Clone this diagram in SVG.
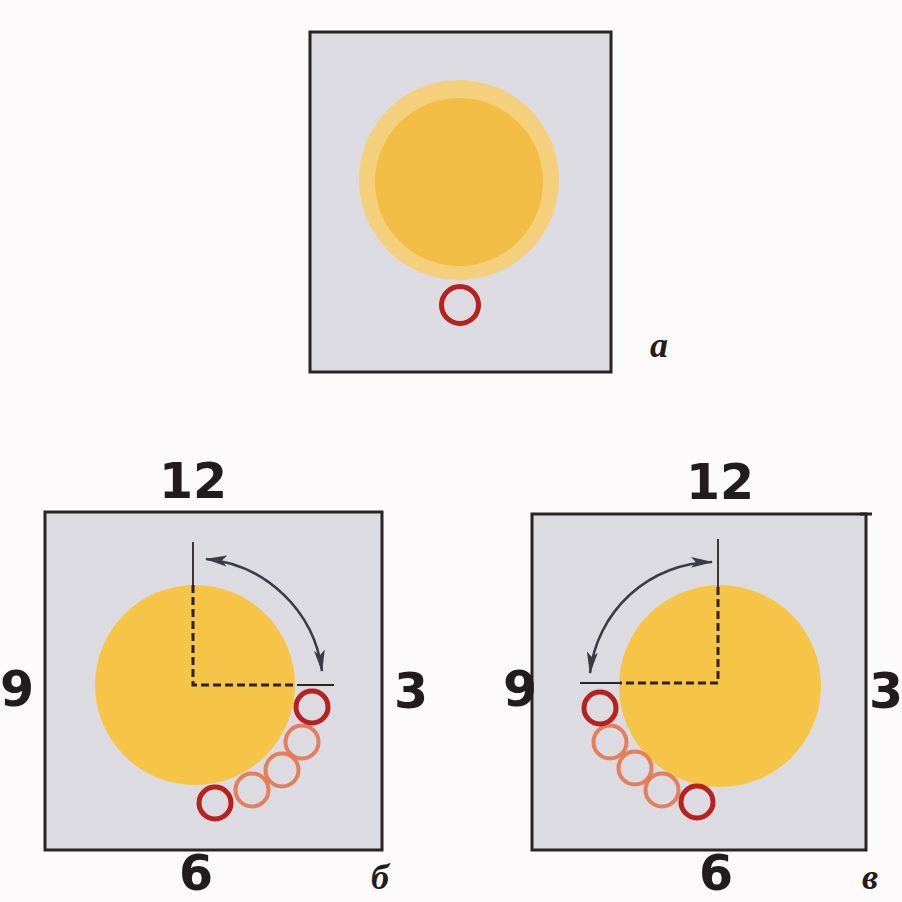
<svg xmlns="http://www.w3.org/2000/svg" width="902" height="902" viewBox="0 0 902 902">
  <defs>
    <marker id="ah" viewBox="0 0 22 13" refX="21" refY="6.5" markerWidth="22" markerHeight="13" markerUnits="userSpaceOnUse" orient="auto-start-reverse">
      <path d="M0,1 L22,6.5 L0,12 L5,6.5 Z" fill="#3a3b44"/>
    </marker>
  </defs>
  <style>
    .panel { fill: #dcdbe2; stroke: #2b2224; stroke-width: 3; }
    .disc { fill: #f6c547; }
    .dash { stroke: #2b2224; stroke-width: 3; stroke-dasharray: 8 4; fill: none; }
    .tick { stroke: #2b2224; stroke-width: 1.8; fill: none; }
    .arc { stroke: #3a3b44; stroke-width: 2.6; fill: none; marker-start: url(#ah); marker-end: url(#ah); }
    .ringD { fill: none; stroke: #b7211e; stroke-width: 5; }
    .ringL { fill: none; stroke: #e4744e; stroke-width: 4; opacity: 0.9; }
    .num { font-family: "DejaVu Sans", "Liberation Sans", sans-serif; font-weight: 700; font-size: 49px; fill: #231c1e; text-anchor: middle; }
    .let { font-family: "Liberation Serif", "DejaVu Serif", serif; font-weight: 700; font-style: italic; font-size: 36px; fill: #231c1e; text-anchor: middle; }
  </style>
  <rect x="0" y="0" width="902" height="902" fill="#fdfafc"/>

  <g id="panel-a">
    <rect class="panel" x="310" y="32" width="301" height="340"/>
    <circle cx="459" cy="180" r="100" fill="#f4d07c"/>
    <circle cx="459" cy="182" r="84" fill="#f2bd45"/>
    <circle class="ringD" cx="460" cy="305" r="18.5"/>
    <text class="let" x="659" y="357">a</text>
  </g>

  <g id="panel-b">
    <rect class="panel" x="45" y="512" width="337" height="338"/>
    <circle class="disc" cx="195" cy="685" r="100"/>
    <text class="num" x="193" y="498">12</text>
    <text class="num" x="17" y="706">9</text>
    <text class="num" x="411" y="708">3</text>
    <text class="num" x="196" y="890">6</text>
    <text class="let" x="380" y="889">б</text>
    <circle class="ringL" cx="302" cy="742" r="16.5"/>
    <circle class="ringL" cx="282" cy="770" r="16.5"/>
    <circle class="ringL" cx="252" cy="790" r="16.5"/>
    <circle class="ringD" cx="312" cy="707" r="16"/>
    <circle class="ringD" cx="215" cy="803" r="16"/>
  </g>

  <g id="panel-v">
    <rect class="panel" x="532" y="514" width="334" height="336"/>
    <line x1="860" y1="514" x2="872" y2="514" stroke="#2b2224" stroke-width="3"/>
    <circle class="disc" cx="720" cy="686" r="101"/>
    <text class="num" x="720" y="499">12</text>
    <text class="num" x="520" y="706">9</text>
    <text class="num" x="886" y="708">3</text>
    <text class="num" x="716" y="890">6</text>
    <text class="let" x="870" y="889">в</text>
    <circle class="ringL" cx="610" cy="742" r="16.5"/>
    <circle class="ringL" cx="635" cy="768" r="16.5"/>
    <circle class="ringL" cx="662" cy="790" r="16.5"/>
    <circle class="ringD" cx="600" cy="708" r="16"/>
    <circle class="ringD" cx="697" cy="802" r="16"/>
  </g>

  <g id="connectors">
    <polyline class="dash" points="193,585 193,685 297,685"/>
    <line class="tick" x1="193" y1="585" x2="193" y2="542"/>
    <line class="tick" x1="297" y1="685" x2="334" y2="685"/>
    <path class="arc" d="M 206 559 A 129 129 0 0 1 322 671"/>

    <polyline class="dash" points="718,587 718,683 620,683"/>
    <line class="tick" x1="718" y1="587" x2="718" y2="539"/>
    <line class="tick" x1="620" y1="683" x2="580" y2="683"/>
    <path class="arc" d="M 712 562 A 125 125 0 0 0 590 673"/>
  </g>
</svg>
